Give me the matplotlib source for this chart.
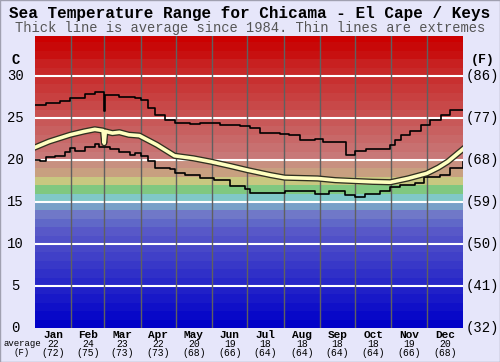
import matplotlib.pyplot as plt
import numpy as np
from matplotlib.patches import Rectangle

# day-of-year positions and temperatures (C)
avg_day = [0, 12, 30, 42, 51, 58, 59, 60, 66, 72, 80, 89, 104, 119, 135, 150, 166, 181,
           201, 213, 227, 241, 256, 272, 288, 303, 318, 334, 344, 352, 365]
avg_t = [21.5, 22.2, 23.0, 23.4, 23.65, 23.5, 22.0, 23.4, 23.2, 23.3, 23.0, 22.9, 21.8,
         20.5, 20.2, 19.8, 19.3, 18.8, 18.2, 17.9, 17.85, 17.8, 17.6, 17.5, 17.4, 17.35,
         17.8, 18.4, 19.1, 19.8, 21.3]

hi_day = [0, 9, 21, 30, 43, 51, 59, 60, 61, 72, 85, 90, 96, 102, 111, 119, 132, 141,
          158, 175, 183, 192, 209, 217, 226, 239, 246, 265, 273, 282, 303, 307, 312,
          320, 329, 337, 346, 354, 365]
hi_t = [26.6, 26.8, 27.0, 27.35, 27.9, 28.05, 25.8, 27.7, 27.7, 27.5, 27.35, 27.1, 26.2,
        25.4, 24.75, 24.4, 24.3, 24.4, 24.15, 24.0, 23.8, 23.25, 23.05, 23.0, 22.4, 22.5,
        22.2, 20.65, 21.1, 21.3, 21.8, 22.4, 23.0, 23.4, 24.2, 24.7, 25.35, 25.9, 26.0]

lo_day = [0, 4, 9, 17, 26, 30, 34, 43, 51, 55, 64, 72, 81, 85, 90, 96, 102, 115, 119,
          128, 141, 153, 166, 179, 183, 213, 239, 251, 264, 273, 281, 294, 303, 311,
          324, 332, 345, 354, 365]
lo_t = [20.0, 19.9, 20.3, 20.5, 20.9, 21.4, 21.1, 21.5, 21.9, 21.6, 21.3, 21.0, 20.6,
        20.8, 20.5, 19.9, 19.1, 18.9, 18.5, 18.2, 17.8, 17.6, 16.9, 16.6, 16.1, 16.25,
        16.0, 16.3, 15.85, 15.65, 16.0, 16.35, 16.75, 17.0, 17.3, 18.0, 18.2, 19.0, 19.8]

months = ['Jan', 'Feb', 'Mar', 'Apr', 'May', 'Jun', 'Jul', 'Aug', 'Sep', 'Oct', 'Nov', 'Dec']
month_c = [22, 24, 23, 22, 20, 19, 18, 18, 18, 18, 19, 20]
month_f = [72, 75, 73, 73, 68, 66, 64, 64, 64, 64, 66, 68]
month_len = [31, 28, 31, 30, 31, 30, 31, 31, 30, 31, 30, 31]
c_ticks = [0, 5, 10, 15, 20, 25, 30]
f_ticks = [32, 41, 50, 59, 68, 77, 86]

# colour of each 1 degree band, from 0C upwards
band_colors = ['#0000c8', '#0808c8', '#1010c8', '#1818c8', '#2020c8', '#2828c8',
               '#3030c8', '#3838c8', '#4040c8', '#4848c8', '#5050c8', '#5858c8',
               '#6068c8', '#7078c8', '#78a0c8', '#80c8c8', '#80c880', '#c8c880',
               '#c8a080', '#c89080', '#c87878', '#c87070', '#c86868', '#c86060',
               '#c85858', '#c85050', '#c84848', '#c84040', '#c83838', '#c83030',
               '#c82828', '#c82020', '#c81010', '#c80808', '#cc0000']

bg = '#e6e6fa'
mono = 'Liberation Mono'
ymax = 34.76

fig = plt.figure(figsize=(5, 3.62), dpi=100, facecolor=bg)
ax = fig.add_axes([0.07, 0.0939, 0.856, 0.8067])
ax.set_xlim(0, 365)
ax.set_ylim(0, ymax)
ax.axis('off')

for i, col in enumerate(band_colors):
    ax.add_patch(Rectangle((0, i), 365, 1, color=col, lw=0, zorder=0))

for t in c_ticks[1:]:
    ax.axhline(t, color='white', lw=1.5, zorder=1)

edges = np.cumsum([0] + month_len)
for e in edges[1:-1]:
    ax.axvline(e, color='#606060', lw=1, zorder=1)

ax.plot(hi_day, hi_t, color='black', lw=1.2, drawstyle='steps-post', zorder=3)
ax.plot(lo_day, lo_t, color='black', lw=1.2, drawstyle='steps-post', zorder=3)
ax.plot(avg_day, avg_t, color='#303020', lw=4.5, zorder=4)
ax.plot(avg_day, avg_t, color='#ffffc0', lw=2.6, zorder=5)

tr = ax.get_yaxis_transform()
for c, f in zip(c_ticks, f_ticks):
    ax.text(-0.045, c, str(c), transform=tr, ha='center', va='center',
            fontsize=10, family=mono)
    ax.text(1.005, c, '(%d)' % f, transform=tr, ha='left', va='center',
            fontsize=10, family=mono)
ax.text(-0.045, 31.9, 'C', transform=tr, ha='center', va='center', fontsize=10,
        family=mono, weight='bold')
ax.text(1.045, 31.9, '(F)', transform=tr, ha='center', va='center', fontsize=9.5,
        family=mono, weight='bold')

xtr = ax.get_xaxis_transform()
mids = (edges[:-1] + edges[1:]) / 2
for m, x, c, f in zip(months, mids, month_c, month_f):
    ax.text(x, -0.024, m, transform=xtr, ha='center', va='center', fontsize=8,
            family=mono, weight='bold')
    ax.text(x, -0.055, str(c), transform=xtr, ha='center', va='center', fontsize=7,
            family=mono)
    ax.text(x, -0.086, '(%d)' % f, transform=xtr, ha='center', va='center', fontsize=7,
            family=mono)
fig.text(0.044, 0.052, 'average', ha='center', va='center', fontsize=6.5, family=mono)
fig.text(0.044, 0.027, '(F)', ha='center', va='center', fontsize=6.5, family=mono)

fig.text(0.5, 0.963, 'Sea Temperature Range for Chicama - El Cape / Keys', ha='center',
         va='center', fontsize=11.5, family=mono, weight='bold')
fig.text(0.5, 0.923, 'Thick line is average since 1984. Thin lines are extremes', ha='center',
         va='center', fontsize=9.9, family=mono, color='#555555')

fig.patches.append(Rectangle((0, 0), 1, 1, transform=fig.transFigure, fill=False,
                             ec='#a0a0b0', lw=1))

fig.savefig('out.png', dpi=100, facecolor=bg)
